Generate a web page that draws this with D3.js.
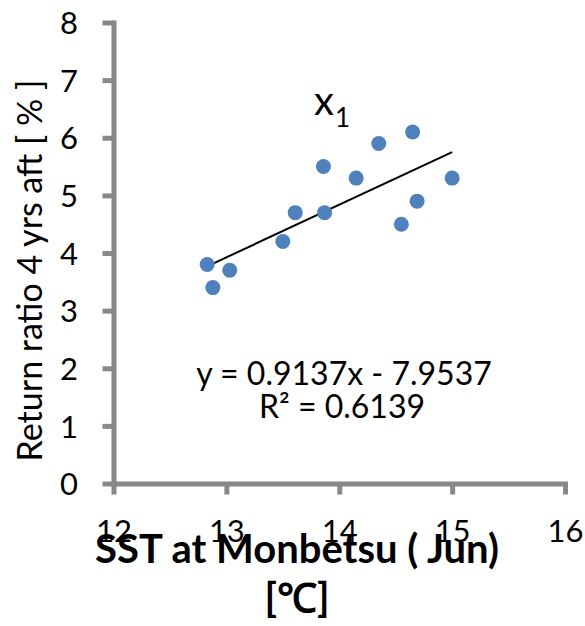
<!DOCTYPE html>
<html>
<head>
<meta charset="utf-8">
<script src="https://cdn.jsdelivr.net/npm/d3@7"></script>
<style>
  html, body { margin: 0; padding: 0; background: #fff; }
  svg { display: block; }
  text { font-family: Lato, "Open Sans", sans-serif; fill: #000; }
</style>
</head>
<body>
<svg id="chart" width="585" height="626"></svg>
<script>
// ---- data ----
const sstJun = [12.83, 12.88, 13.03, 13.50, 13.61, 13.87, 13.86, 14.15, 14.35, 14.65, 15.00, 14.69, 14.55];
const returnRatio = [3.8, 3.4, 3.7, 4.2, 4.7, 4.7, 5.5, 5.3, 5.9, 6.1, 5.3, 4.9, 4.5];
const xTicks = [12, 13, 14, 15, 16];
const yTicks = [0, 1, 2, 3, 4, 5, 6, 7, 8];
const slope = 0.9137;
const intercept = -7.9537;
const rSquared = 0.6139;
const seriesLabel = "x";
const seriesSub = "1";
const xTitle1 = "SST at Monbetsu ( Jun)";
const xTitle2 = "[℃]";
const yTitle = "Return ratio 4 yrs aft [ % ]";

// ---- layout ----
const svg = d3.select("#chart");
svg.append("rect").attr("width", 585).attr("height", 626).attr("fill", "#fff");

const x = d3.scaleLinear().domain([12, 16]).range([113.5, 565]);
const y = d3.scaleLinear().domain([0, 8]).range([483.5, 22.5]);
const axisColor = "#888888";

// y axis
const gy = svg.append("g").attr("transform", `translate(${x(12)},0)`)
  .call(d3.axisLeft(y).tickValues(yTicks).tickSizeInner(11).tickSizeOuter(0).tickFormat(d3.format("d")));
// x axis
const gx = svg.append("g").attr("transform", `translate(0,${y(0)})`)
  .call(d3.axisBottom(x).tickValues(xTicks).tickSizeInner(11).tickSizeOuter(0).tickFormat(d3.format("d")));

[gy, gx].forEach(g => {
  g.select(".domain").attr("stroke", axisColor).attr("stroke-width", 5).attr("stroke-linecap", "square");
  g.selectAll(".tick line").attr("stroke", axisColor).attr("stroke-width", 5);
  g.selectAll(".tick text").attr("font-family", "Lato").attr("font-size", 31).attr("fill", "#000");
});
gy.selectAll(".tick text").attr("x", -35.5).attr("dy", "0.36em");
gx.selectAll(".tick text").attr("y", 58.5).attr("dy", 0);

// trend line
const xMin = d3.min(sstJun), xMax = d3.max(sstJun);
svg.append("line")
  .attr("x1", x(xMin)).attr("y1", y(slope * xMin + intercept))
  .attr("x2", x(xMax)).attr("y2", y(slope * xMax + intercept))
  .attr("stroke", "#000").attr("stroke-width", 2);

// points
svg.append("g").selectAll("circle")
  .data(sstJun.map((v, i) => [v, returnRatio[i]]))
  .join("circle")
  .attr("cx", d => x(d[0])).attr("cy", d => y(d[1]))
  .attr("r", 7.5).attr("fill", "#4F81BD");

// series label
const lab = svg.append("text").attr("x", 314).attr("y", 115).attr("font-size", 40);
lab.append("tspan").text(seriesLabel);
lab.append("tspan").attr("font-size", 26).attr("dy", 12).attr("dx", 1).text(seriesSub);

// equation
svg.append("text").attr("x", 344).attr("y", 385).attr("text-anchor", "middle").attr("font-size", 32)
  .text(`y = ${slope}x - ${Math.abs(intercept)}`);
svg.append("text").attr("x", 342).attr("y", 418).attr("text-anchor", "middle").attr("font-size", 32)
  .text(`R² = ${rSquared}`);

// axis titles
svg.append("text").attr("transform", "translate(42,270.5) rotate(-90)")
  .attr("text-anchor", "middle").attr("font-size", 34).text(yTitle);
svg.append("text").attr("x", 297).attr("y", 563).attr("text-anchor", "middle")
  .attr("font-size", 40).attr("font-weight", "bold").text(xTitle1);
svg.append("text").attr("x", 297).attr("y", 612).attr("text-anchor", "middle")
  .attr("font-size", 40).attr("font-weight", "bold").text(xTitle2);
</script>
</body>
</html>
